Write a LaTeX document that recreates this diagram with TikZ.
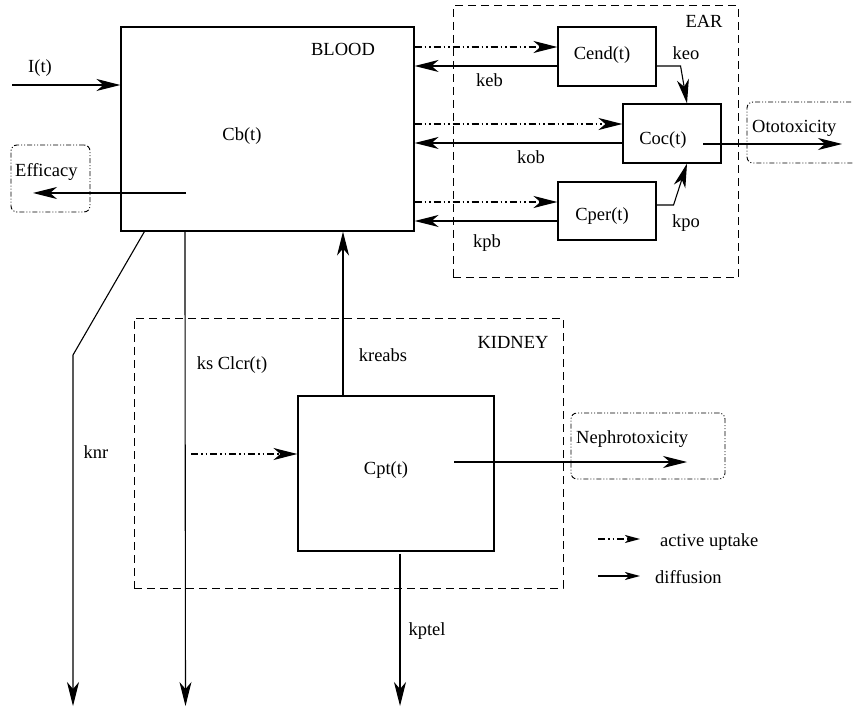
\documentclass[tikz,border=0pt]{standalone}
\usepackage{fontspec}
\setmainfont{Liberation Serif}
\usetikzlibrary{arrows.meta,calc}

\begin{document}
\begin{tikzpicture}[
  x=1pt, y=-1pt,
  font=\fontsize{18.5}{22}\selectfont,
  comp/.style={draw, line width=1.1pt, inner sep=0pt, minimum width=#1},
  region/.style={draw, line width=1pt, dash pattern=on 8pt off 5pt, inner sep=0pt},
  effect/.style={draw, line width=0.9pt, rounded corners=6pt,
    dash pattern=on 5pt off 2pt on 1pt off 2pt on 1pt off 2pt},
  txt/.style={inner sep=0pt, anchor=base},
  diff/.style={line width=1.1pt, -{Stealth[length=24pt, width=12pt, inset=7pt]}},
  uptake/.style={diff, dash pattern=on 7pt off 3pt on 1.5pt off 3pt on 1.5pt off 3pt},
  legtip/.style={-{Stealth[length=15pt, width=8pt, inset=4pt]}},
]
\clip (0,0) rectangle (853,708);
% compartments
\node[comp=293pt, minimum height=204pt] (blood) at (267.5,129) {};
\node[comp=98pt, minimum height=59pt] (cend) at (607,56.5) {};
\node[comp=98pt, minimum height=59pt] (coc) at (672,133.5) {};
\node[comp=98pt, minimum height=58pt] (cper) at (607,211) {};
\node[comp=196pt, minimum height=155pt] (cpt) at (396,473.5) {};
% organs and effects
\node[region, minimum width=285pt, minimum height=272pt] (ear) at (595.5,142) {};
\node[region, minimum width=429pt, minimum height=270pt] (kidney) at (348.5,453) {};
\node[effect, minimum width=79pt, minimum height=67pt] (eff) at (50.5,178.5) {};
\node[effect, minimum width=123pt, minimum height=61pt] (oto) at (808.5,132.5) {};
\node[effect, minimum width=154pt, minimum height=66pt] (neph) at (648,446) {};

% texts
\node[txt] (lblood) at (343,56) {BLOOD};
\node[txt] (lcb) at (242,141) {Cb(t)};
\node[txt] (lin) at (40,73) {I(t)};
\node[txt, anchor=base west] (leff) at (15,177) {Efficacy};
\node[txt] (lear) at (704,28) {EAR};
\node[txt] (lcend) at (602,60) {Cend(t)};
\node[txt] (lcoc) at (663,145) {Coc(t)};
\node[txt] (lcper) at (602,221) {Cper(t)};
\node[txt] (lkeb) at (489.5,87) {keb};
\node[txt] (lkob) at (531,164) {kob};
\node[txt] (lkpb) at (487,248) {kpb};
\node[txt] (lkeo) at (686,60) {keo};
\node[txt] (lkpo) at (686,228) {kpo};
\node[txt, anchor=base west] (loto) at (752,133) {Ototoxicity};
\node[txt] (lkid) at (513,348) {KIDNEY};
\node[txt] (lkre) at (383,361) {kreabs};
\node[txt] (lks) at (232,369) {ks Clcr(t)};
\node[txt] (lknr) at (96,458) {knr};
\node[txt] (lcpt) at (386,474) {Cpt(t)};
\node[txt, anchor=base west] (lneph) at (576,443) {Nephrotoxicity};
\node[txt] (lkpt) at (427,635) {kptel};
\node[txt, anchor=base west] (lact) at (660,546) {active uptake};
\node[txt, anchor=base west] (ldif) at (655,583) {diffusion};

% input and efficacy
\coordinate (src) at (12,85);
\draw[diff] (src) -- (src -| blood.west);
\coordinate (effout) at (186,193);
\coordinate (effin) at (33,193);
\draw[diff] (effout) -- (effin);

% blood <-> ear
\coordinate (eu) at ([yshift=9.5pt]cend.west);
\coordinate (ed) at ([yshift=-9.5pt]cend.west);
\draw[uptake] (eu -| blood.east) -- (eu);
\draw[diff] (ed) -- (ed -| blood.east);
\coordinate (ou) at ([yshift=9.5pt]coc.west);
\coordinate (od) at ([yshift=-9.5pt]coc.west);
\draw[uptake] (ou -| blood.east) -- (ou);
\draw[diff] (od) -- (od -| blood.east);
\coordinate (pu) at ([yshift=9pt]cper.west);
\coordinate (pd) at ([yshift=-10pt]cper.west);
\draw[uptake] (pu -| blood.east) -- (pu);
\draw[diff] (pd) -- (pd -| blood.east);
\draw[diff] ([yshift=-9.5pt]cend.east) -- ++(24,0) -- ([xshift=15pt]coc.north);
\draw[diff] ([yshift=6pt]cper.east) -- ++(17,0) -- ([xshift=15pt]coc.south);
\coordinate (ooff) at (703,144);
\coordinate (oend) at (842,144);
\draw[diff] (ooff) -- (oend);

% blood -> elimination, kidney
\coordinate (knrend) at (73,706);
\coordinate (ksend) at (185.5,706);
\coordinate (kptend) at (400,706);
\draw[diff] ([xshift=24pt]blood.south west) -- (73,355) -- (knrend);
\draw[diff] ([xshift=64.5pt]blood.south west) -- (ksend);
\draw[diff] ([xshift=-53pt]cpt.north) -- ([xshift=-53pt]cpt.north |- blood.south);
\coordinate (ku) at ([yshift=19.5pt]cpt.west);
\coordinate (kuin) at (191,454);
\draw[uptake] (kuin) -- (ku);
\coordinate (noff) at (454,462);
\coordinate (nend) at (687,462);
\draw[diff] (noff) -- (nend);
\draw[diff] ([xshift=4pt, yshift=-2pt]cpt.south) -- (kptend);

% legend
\coordinate (la) at (598,539);
\coordinate (ld) at (598,576);
\draw[uptake, legtip] (la) -- ++(42,0);
\draw[diff, legtip] (ld) -- ++(42,0);
\end{tikzpicture}
\end{document}
